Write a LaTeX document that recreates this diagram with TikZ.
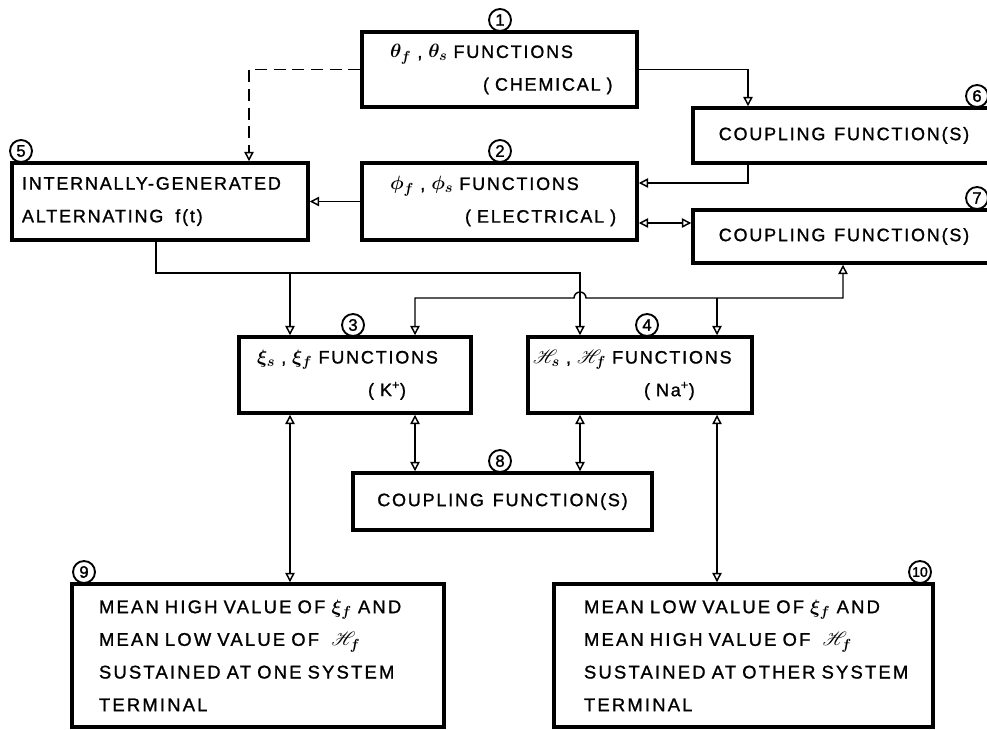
\documentclass[tikz,border=0pt]{standalone}
\usepackage{fontspec}
\usepackage{amsmath}
\usepackage{mathrsfs}
\usetikzlibrary{arrows.meta}
\newfontfamily\lett[LetterSpace=10,WordSpace=1.3,FakeBold=1.2]{Liberation Sans}
\newfontfamily\lettb[LetterSpace=12,WordSpace=1.7,FakeBold=1.2]{Liberation Sans}
\newfontfamily\numf[FakeBold=1.5]{Liberation Sans}
\newcommand\mth[1]{{\fontsize{15}{15}\selectfont\boldmath$#1$}}
\begin{document}
\begin{tikzpicture}[x=0.75pt,y=-0.75pt,
 box/.style={draw, line width=2.6pt, inner sep=0pt, align=left, font=\lett\fontsize{13.5}{24.5}\selectfont},
 bigbox/.style={box, font=\lettb\fontsize{13.8}{24.5}\selectfont},
 cbox/.style={box, align=center},
 num/.style={circle, draw, line width=1.4pt, fill=white, minimum size=16.5pt, inner sep=0pt, font=\numf\fontsize{12.5}{12.5}\selectfont},
 conn/.style={line width=1.1pt},
 arr/.style={conn, -{Triangle[open,length=7pt,width=7pt]}},
 darr/.style={conn, {Triangle[open,length=7pt,width=7pt]}-{Triangle[open,length=7pt,width=7pt]}},
 dashline/.style={dash pattern=on 9pt off 5pt}
]
\useasboundingbox (0,0) rectangle (987,730);
\clip (0,0) rectangle (987,730);

% boxes
\node[box, minimum width=206.25pt, minimum height=56.25pt, text width=164.25pt] (b1) at (499.5,69.5)
 {\mbox{\mth{\theta_f} , \mth{\theta_s} FUNCTIONS}\\\mbox{\hspace*{69.75pt}( CHEMICAL )}};
\node[box, minimum width=206.25pt, minimum height=57.75pt, text width=164.25pt] (b2) at (499.5,201.5)
 {\mbox{\mth{\phi_f} , \mth{\phi_s} FUNCTIONS}\\\mbox{\hspace*{56.25pt}( ELECTRICAL )}};
\node[box, minimum width=222pt, minimum height=57.75pt, text width=207pt] (b5) at (160,201.5)
 {\mbox{INTERNALLY-GENERATED}\\\mbox{ALTERNATING~ f(t)}};
\node[cbox, minimum width=226.5pt, minimum height=41.25pt] (b6) at (844,135.5) {COUPLING FUNCTION(S)};
\node[cbox, minimum width=226.5pt, minimum height=39.75pt] (b7) at (844,236.5) {COUPLING FUNCTION(S)};
\node[box, minimum width=174pt, minimum height=57pt, text width=147pt] (b3) at (355,375)
 {\mbox{\mth{\xi_s} , \mth{\xi_f} FUNCTIONS}\\\mbox{\hspace*{83.25pt}( K\textsuperscript{+})}};
\node[box, minimum width=168pt, minimum height=57pt, text width=160.5pt] (b4) at (640,375)
 {\mbox{\mth{\mathscr{H}_s} , \mth{\mathscr{H}_f} FUNCTIONS}\\\mbox{\hspace*{83.25pt}( Na\textsuperscript{+})}};
\node[cbox, minimum width=224.25pt, minimum height=42.75pt] (b8) at (502.5,501.5) {COUPLING FUNCTION(S)};
\node[bigbox, minimum width=279pt, minimum height=107.25pt, text width=238.5pt] (b9) at (258,655.5)
 {\mbox{MEAN HIGH VALUE OF \mth{\xi_f} AND}\\\mbox{MEAN LOW VALUE OF ~\mth{\mathscr{H}_f}}\\\mbox{SUSTAINED AT ONE SYSTEM}\\\mbox{TERMINAL}};
\node[bigbox, minimum width=284.25pt, minimum height=107.25pt, text width=239.25pt] (b10) at (743.5,655.5)
 {\mbox{MEAN LOW VALUE OF \mth{\xi_f} AND}\\\mbox{MEAN HIGH VALUE OF ~\mth{\mathscr{H}_f}}\\\mbox{SUSTAINED AT OTHER SYSTEM}\\\mbox{TERMINAL}};

% number circles
\node[num] (n1) at (500,20) {1};
\node[num] (n2) at (500,151) {2};
\node[num] (n5) at (21,151) {5};
\node[num] (n6) at (977,96) {6};
\node[num] (n7) at (977,198) {7};
\node[num] (n3) at (353,325) {3};
\node[num] (n4) at (647,325) {4};
\node[num] (n8) at (500,461) {8};
\node[num] (n9) at (84,572) {9};
\node[num, font=\numf\fontsize{10.5}{10.5}\selectfont] (n10) at (920,572) {10};

% helper coordinates
\coordinate (xA) at (249,0);
\coordinate (xB) at (748,0);
\coordinate (yC) at (0,183);
\coordinate (yE) at (0,223);
\coordinate (yBus) at (0,298);
\coordinate (xJ) at (580,0);
\coordinate (xG) at (843,0);
\coordinate (xK) at (717,0);
\coordinate (xL) at (156,0);
\coordinate (yT) at (0,273);
\coordinate (xM) at (290,0);
\coordinate (xN) at (415,0);

% connectors
\draw[arr, dashline] (b1.west) -| (xA |- b5.north);
\draw[arr] (b1.east) -| (xB |- b6.north);
\draw[arr] (xB |- b6.south) |- (b2.east |- yC);
\draw[arr] (b2.west) -- (b5.east);
\draw[darr] (b2.east |- yE) -- (b7.west |- yE);
\draw[darr] (xN |- b3.north) -- (xN |- yBus) -- ([xshift=-4.5pt]xJ |- yBus)
  arc[start angle=180, end angle=0, radius=4.5pt] -- (xG |- yBus) -- (xG |- b7.south);
\draw[arr] (xK |- yBus) -- (xK |- b4.north);
\draw[arr] (xL |- b5.south) |- (xJ |- yT) -- (xJ |- b4.north);
\draw[arr] (xM |- yT) -- (xM |- b3.north);
\draw[darr] (xM |- b3.south) -- (xM |- b9.north);
\draw[darr] (xN |- b3.south) -- (xN |- b8.north);
\draw[darr] (xJ |- b4.south) -- (xJ |- b8.north);
\draw[darr] (xK |- b4.south) -- (xK |- b10.north);
\end{tikzpicture}
\end{document}
